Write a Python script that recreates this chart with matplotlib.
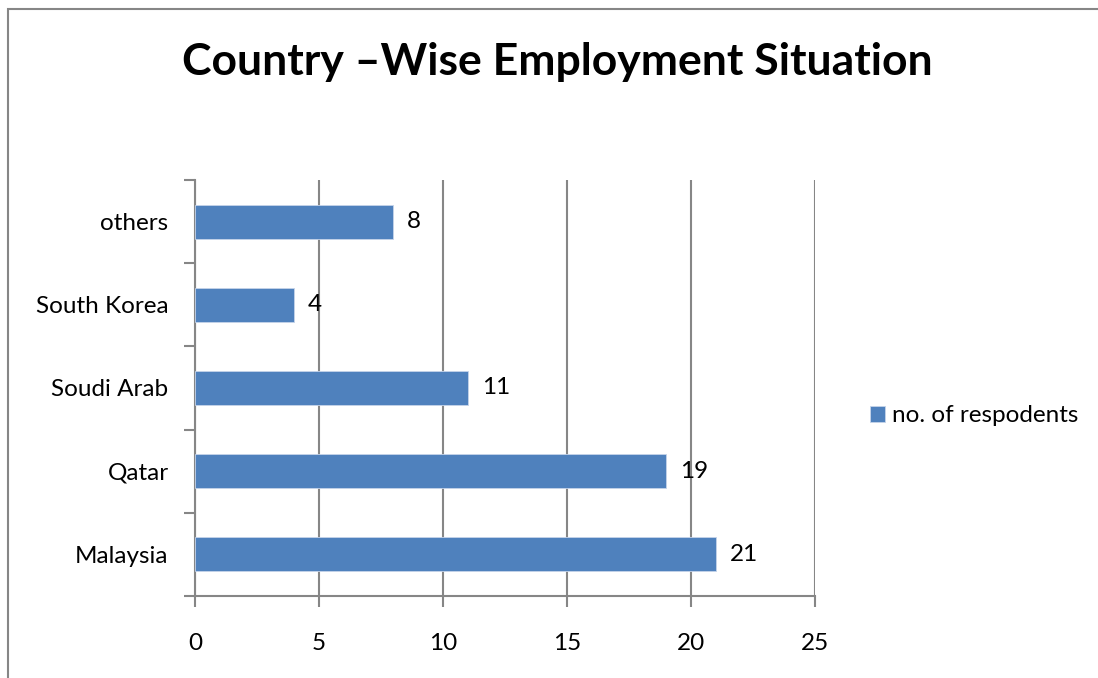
import matplotlib
matplotlib.use("Agg")
import matplotlib.pyplot as plt
from matplotlib.patches import Rectangle
from matplotlib.ticker import FixedLocator

plt.rcParams["font.family"] = ["Lato", "DejaVu Sans"]

countries = ["Malaysia", "Qatar", "Soudi Arab", "South Korea", "others"]
respondents = [21, 19, 11, 4, 8]
x_ticks = [0, 5, 10, 15, 20, 25]
series_name = "no. of respodents"
title = "Country \u2013Wise Employment Situation"

BAR = "#4f81bd"
GRID = "#868686"
FS = 17.5

fig = plt.figure(figsize=(10.98, 6.78), dpi=100)
# outer chart border (only left and top visible in the crop)
fig.patches.append(Rectangle((8 / 1098, -0.1), 1.2, (678 - 9) / 678 + 0.1,
                             transform=fig.transFigure, fill=False,
                             edgecolor=GRID, linewidth=1.5))

ax = fig.add_axes([195 / 1098, 1 - 596 / 678, 620 / 1098, 416 / 678])
ypos = list(range(len(countries)))
ax.barh(ypos, respondents, height=0.41, color=BAR, edgecolor="#c6d4ea",
        linewidth=0.6, zorder=3, label=series_name)

for y, v in zip(ypos, respondents):
    ax.annotate(str(v), (v, y), xytext=(10, 0), textcoords="offset points",
                va="center", ha="left", fontsize=FS, color="black")

ax.set_xlim(0, 25)
ax.set_ylim(-0.5, len(countries) - 0.5)
ax.set_xticks(x_ticks)
ax.set_yticks(ypos)
ax.set_yticklabels(countries)
ax.yaxis.set_minor_locator(FixedLocator([i - 0.5 for i in range(len(countries) + 1)]))
ax.tick_params(axis="y", which="major", length=0, pad=19, labelsize=FS)
ax.tick_params(axis="y", which="minor", length=8, width=1.5, color=GRID)
ax.tick_params(axis="x", length=8, width=1.5, color=GRID, pad=19, labelsize=FS)

ax.grid(axis="x", color=GRID, linewidth=1.5, zorder=0)
for s in ["top", "right"]:
    ax.spines[s].set_visible(False)
for s in ["left", "bottom"]:
    ax.spines[s].set_color(GRID)
    ax.spines[s].set_linewidth(1.5)

fig.text(557 / 1098, 1 - 62 / 678, title, ha="center", va="center",
         fontsize=32, fontweight="bold")

ax.legend(loc="center left", bbox_to_anchor=(858 / 1098, 1 - 416 / 678),
          bbox_transform=fig.transFigure, frameon=False, fontsize=FS,
          handlelength=0.6, handleheight=0.6, handletextpad=0.3, borderpad=0)

fig.savefig("out.png", dpi=100)
